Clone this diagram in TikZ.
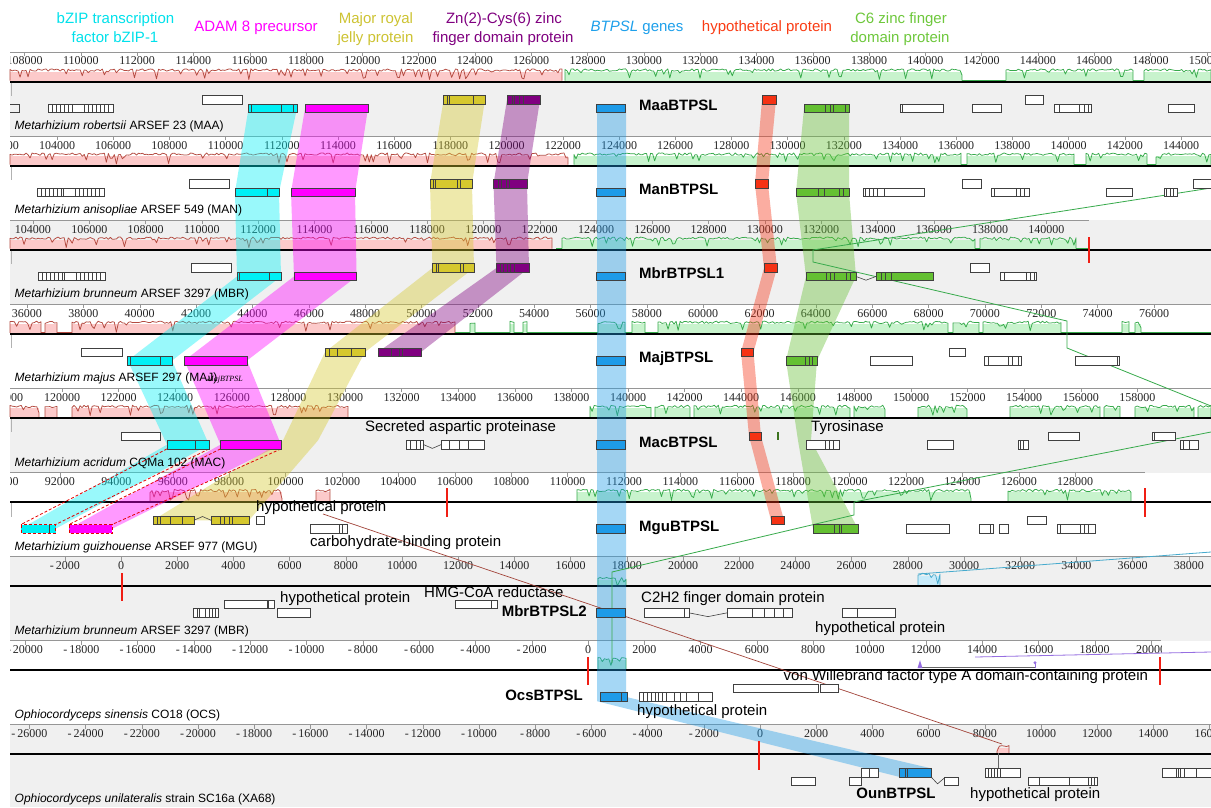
\documentclass[tikz,border=0pt]{standalone}
\usepackage{fontspec}
\setmainfont{Liberation Sans}
\newfontfamily\serifticks{Liberation Serif}
\definecolor{cyG}{RGB}{0,240,245}
\definecolor{maG}{RGB}{255,0,255}
\definecolor{yeG}{RGB}{214,200,46}
\definecolor{puG}{RGB}{128,0,128}
\definecolor{blG}{RGB}{30,155,232}
\definecolor{reG}{RGB}{245,50,20}
\definecolor{grG}{RGB}{100,192,50}
\definecolor{rline}{RGB}{180,75,65}
\definecolor{rfill}{RGB}{252,202,202}
\definecolor{gline}{RGB}{55,170,75}
\definecolor{gfill}{RGB}{200,243,205}
\definecolor{tline}{RGB}{70,170,205}
\definecolor{tfill}{RGB}{200,235,250}
\definecolor{pline}{RGB}{150,110,225}
\definecolor{panelgray}{RGB}{240,240,240}
\definecolor{rulegray}{RGB}{150,150,150}
\definecolor{markred}{RGB}{240,30,20}
\definecolor{tcy}{RGB}{0,225,235}
\definecolor{tye}{RGB}{205,195,50}
\definecolor{tbl}{RGB}{30,160,235}
\definecolor{tre}{RGB}{250,60,20}
\definecolor{tgr}{RGB}{110,200,60}
\newcommand\tickf{\serifticks\fontsize{12}{12}\selectfont}
\newcommand\legf{\fontsize{15}{15}\selectfont}
\newcommand\specf{\fontsize{12}{12}\selectfont}
\newcommand\gnamef{\fontsize{15}{15}\selectfont\bfseries}
\newcommand\flabf{\fontsize{15}{15}\selectfont}
\tikzset{
 gb/.style={draw=black!75,line width=.6pt},
 dashbox/.style={draw=red!90!black,dash pattern=on 3pt off 2pt,line width=.8pt},
 ticklab/.style={font=\tickf,text=black!85,inner sep=0pt,text height=.68em,text depth=0pt},
 legend/.style={font=\legf,inner sep=0pt,text height=.72em,text depth=0pt},
 spec/.style={font=\specf,anchor=west,inner sep=0pt,text height=.72em,text depth=0pt},
 gname/.style={font=\gnamef,inner sep=0pt,text height=.72em,text depth=0pt},
 flab/.style={font=\flabf,inner sep=0pt,text height=.72em,text depth=0pt},
 blackrule/.style={line width=2pt,black},
 contig/.style={markred,line width=1.8pt},
 lcbline/.style={line width=.8pt},
}
% gene boxes: [fill]{x1}{x2}{panel y}
\newcommand\gU[4][white]{\draw[gb,fill=#1] (#2,#4+43.5) rectangle (#3,#4+52);}
\newcommand\gL[4][white]{\draw[gb,fill=#1] (#2,#4+52) rectangle (#3,#4+60.5);}
\newcommand\dU[2]{\foreach \dx in {#2}{\draw[gb] (\dx,#1+43.5) -- (\dx,#1+52);}}
\newcommand\dL[2]{\foreach \dx in {#2}{\draw[gb] (\dx,#1+52) -- (\dx,#1+60.5);}}
\newcommand\cL[3]{\draw[gb] (#2,#1+56.25) -- ({(#2+#3)/2},#1+60) -- (#3,#1+56.25);}
\newcommand\cU[3]{\draw[gb] (#2,#1+47.75) -- ({(#2+#3)/2},#1+44) -- (#3,#1+47.75);}
% similarity plot segment: [top offset]{x1}{x2}{panel y}{colour prefix}
\newcommand\simseg[5][18]{%
 \pgfmathtruncatemacro\nSamp{max(2,(#3-#2)/2)}%
 \fill[#5fill] (#2,#4+#1+1.5) rectangle (#3,#4+29.5);%
 \draw[#5line,line width=.75pt,line join=round] (#2,#4+28.5) -- plot[domain=#2:#3,samples=\nSamp] (\x,{#4+#1+1.2*rand+9*(rnd>0.84)*rnd}) -- (#3,#4+28.5);}
\newcommand\simbase[4]{\draw[#4line,line width=.7pt] (#1,#3+28.5) -- (#2,#3+28.5);}
% ruler: {Y}{xend}{v0 (thousands)}{x0}{spacing}{nmax}{prefix}
\newcommand\ruler[7]{%
 \draw[rulegray,line width=.8pt] (10,#1) -- (#2,#1);
 \begin{scope}
 \clip (10,#1-1) rectangle (#2,#1+18);
 \foreach \n in {0,...,#6}{
  \pgfmathsetmacro\tkX{#4+\n*#5}
  \pgfmathtruncatemacro\tkV{#3+2*\n}
  \pgfmathtruncatemacro\tkA{abs(\tkV)}
  \draw[rulegray] (\tkX,#1) -- (\tkX,#1+4);
  \node[ticklab] (#7\n) at (\tkX,#1+9.5) {\ifnum\tkV<0 -\,\tkA000\else\ifnum\tkV=0 0\else\tkA000\fi\fi};
 }
 \end{scope}}
\def\pA{52}\def\pB{136.1}\def\pC{220.2}\def\pD{304.3}\def\pE{388.4}
\def\pF{472.5}\def\pG{556.6}\def\pH{640.7}\def\pI{724.8}
\begin{document}
\begin{tikzpicture}[x=1pt,y=-1pt]
\pgfmathsetseed{7}
\useasboundingbox (0,0) rectangle (1211,807);
\fill[white] (0,0) rectangle (1211,807);
% panel backgrounds
\fill[panelgray] (10,\pA+30.5) rectangle (1211,\pB);
\fill[panelgray] (10,\pC) rectangle (1211,\pD);
\fill[panelgray] (10,\pE+30.5) rectangle (1211,\pF);
\fill[panelgray] (10,\pG) rectangle (1211,\pH);
\fill[panelgray] (10,\pI) rectangle (1211,807);
% similarity plots
\simseg{10}{562}{\pA}{r}
\simbase{565}{1211}{\pA}{g}
\simseg{565}{962}{\pA}{g}\simseg{1006}{1133}{\pA}{g}\simseg{1144}{1211}{\pA}{g}
\simseg{10}{568}{\pB}{r}
\simbase{574}{1211}{\pB}{g}
\simseg{574}{961}{\pB}{g}\simseg{967}{1074}{\pB}{g}\simseg{1086}{1147}{\pB}{g}\simseg{1156}{1211}{\pB}{g}
\simseg{10}{552}{\pC}{r}
\simbase{556}{1089}{\pC}{g}
\simseg{562}{975}{\pC}{g}\simseg{980}{1076}{\pC}{g}
\simbase{10}{455}{\pD}{r}
\simseg{10}{41}{\pD}{r}\simseg{45}{57}{\pD}{r}\simseg{72}{455}{\pD}{r}
\simbase{455}{1211}{\pD}{g}
\simseg{470}{475}{\pD}{g}\simseg{510}{514}{\pD}{g}\simseg{523}{527}{\pD}{g}
\simseg{598}{625}{\pD}{g}\simseg{632}{645}{\pD}{g}\simseg{658}{948}{\pD}{g}
\simseg{953}{979}{\pD}{g}\simseg{983}{1061}{\pD}{g}\simseg{1122}{1129}{\pD}{g}\simseg{1135}{1141}{\pD}{g}
\simbase{10}{348}{\pE}{r}
\simseg{10}{39}{\pE}{r}\simseg{45}{57}{\pE}{r}\simseg{72}{348}{\pE}{r}
\simbase{585}{1211}{\pE}{g}
\simseg{590}{651}{\pE}{g}\simseg{655}{690}{\pE}{g}\simseg{694}{850}{\pE}{g}
\simseg{854}{885}{\pE}{g}\simseg{918}{967}{\pE}{g}\simseg{1010}{1100}{\pE}{g}
\simseg{1104}{1120}{\pE}{g}\simseg{1135}{1194}{\pE}{g}\simseg{1198}{1211}{\pE}{g}
\simseg{150}{282}{\pF}{r}\simseg{316}{330}{\pF}{r}
\simbase{577}{1145}{\pF}{g}
\simseg{577}{971}{\pF}{g}\simseg{1008}{1131}{\pF}{g}
\simseg[22]{598}{626}{\pG}{g}
\simseg[17.5]{918}{940}{\pG}{t}
\simseg[18]{598}{626}{\pH}{g}
\draw[black!60,line width=.7pt] (920,\pH+27) -- (1035,\pH+27);
\fill[pline] (917.5,\pH+27.5) -- (920,\pH+19.5) -- (922.5,\pH+27.5) -- cycle;
\draw[pline,line width=.8pt] (1035,\pH+27.5) -- (1035,\pH+22);
\fill[pline] (1035,\pH+22) circle (1.6);
\simseg[21.5]{997}{1009}{\pI}{r}
% rulers
\ruler{\pA}{1211}{108}{24.5}{56.3}{21}{rA}
\ruler{\pB}{1211}{102}{0.8}{56.2}{21}{rB}
\ruler{\pC}{1089}{104}{33}{56.3}{18}{rC}
\ruler{\pD}{1211}{36}{27}{56.35}{20}{rD}
\ruler{\pE}{1211}{118}{5.4}{56.6}{20}{rE}
\ruler{\pF}{1145}{90}{3.6}{56.4}{19}{rF}
\ruler{\pG}{1211}{-2}{64.8}{56.2}{20}{rG}
\ruler{\pH}{1161}{-20}{25}{56.3}{20}{rH}
\ruler{\pI}{1211}{-26}{29.4}{56.2}{21}{rI}
% black panel lines
\foreach \Y in {\pA,\pB,\pC,\pD,\pE,\pF,\pG,\pH,\pI}{
 \draw[blackrule] (10,\Y+29.5) -- (1211,\Y+29.5);}
\foreach \Y in {\pA,\pB,\pC,\pD,\pE,\pF}{
 \draw[black!30,line width=.6pt] (11,\Y+30.5) -- (11,\Y+44);}
% LCB bands
\fill[cyG,opacity=.4] (248.5,\pA+56.25) -- (235,\pB+56.25) -- (237,\pC+56.25) -- (127.7,\pD+56.25) -- (167,\pE+56.25) -- (21,\pF+56.25) -- (55.6,\pF+56.25) -- (209,\pE+56.25) -- (172,\pD+56.25) -- (281,\pC+56.25) -- (279,\pB+56.25) -- (297,\pA+56.25) -- cycle;
\fill[maG,opacity=.4] (305,\pA+56.25) -- (291,\pB+56.25) -- (294,\pC+56.25) -- (184.4,\pD+56.25) -- (220.5,\pE+56.25) -- (69,\pF+56.25) -- (112,\pF+56.25) -- (281,\pE+56.25) -- (247,\pD+56.25) -- (356.6,\pC+56.25) -- (355,\pB+56.25) -- (368,\pA+56.25) -- cycle;
\fill[yeG,opacity=.4] (443.6,\pA+47.75) -- (430,\pB+47.75) -- (432.5,\pC+47.75) -- (325,\pD+47.75) -- (283,\pE+52) -- (153,\pF+47.75) -- (249,\pF+47.75) -- (318,\pE+52) -- (365,\pD+47.75) -- (474,\pC+47.75) -- (472,\pB+47.75) -- (485,\pA+47.75) -- cycle;
\fill[puG,opacity=.4] (507,\pA+47.75) -- (493.5,\pB+47.75) -- (496.5,\pC+47.75) -- (378,\pD+47.75) -- (421,\pD+47.75) -- (529,\pC+47.75) -- (527,\pB+47.75) -- (540,\pA+47.75) -- cycle;
\fill[blG,opacity=.4] (597,\pA+56.25) -- (597,\pH+60.5) -- (899,\pI+52) -- (931,\pI+43.5) -- (626,\pH+56.25) -- (626,\pA+56.25) -- cycle;
\fill[reG,opacity=.4] (762,\pA+47.75) -- (755,\pB+47.75) -- (764,\pC+47.75) -- (741,\pD+47.75) -- (749,\pE+47.75) -- (771,\pF+47.75) -- (784,\pF+47.75) -- (761,\pE+47.75) -- (753.5,\pD+47.75) -- (777,\pC+47.75) -- (768,\pB+47.75) -- (776,\pA+47.75) -- cycle;
\fill[grG,opacity=.4] (804,\pA+56.25) -- (796,\pB+56.25) -- (806,\pC+56.25) -- (786,\pD+56.25) -- (798,\pE+52) -- (813,\pF+56.25) -- (858,\pF+56.25) -- (811,\pE+52) -- (817,\pD+56.25) -- (856,\pC+56.25) -- (849,\pB+56.25) -- (849,\pA+56.25) -- cycle;
% dashed LCB edges
\draw[dashbox] (167,\pE+60.5) -- (21,\pF+52);
\draw[dashbox] (209,\pE+60.5) -- (55.6,\pF+52);
\draw[dashbox] (220.5,\pE+60.5) -- (69,\pF+52);
\draw[dashbox] (281,\pE+60.5) -- (112,\pF+52);
% thin LCB connection lines
\draw[lcbline,gline] (1211,188) -- (813,250) -- (813,262) -- (1067,321) -- (1067,348) -- (1211,406);
\draw[lcbline,gline] (1211,432) -- (854,502) -- (854,515) -- (612,572) -- (612,663);
\draw[lcbline,tline] (918,574) -- (1211,552);
\draw[lcbline,pline] (975,657) -- (1211,652);
\draw[line width=.7pt,rline!90!black] (323,514) -- (1002,744);
\draw[black!60,line width=.7pt] (998,753) -- (998,770);
% contig boundaries
\draw[contig] (1089,237) -- (1089,263);
\draw[contig] (446.7,488) -- (446.7,517);
\draw[contig] (1145,488) -- (1145,517);
\draw[contig] (122,573) -- (122,601);
\draw[contig] (588,657) -- (588,685);
\draw[contig] (1160,657) -- (1160,685);
\draw[contig] (759,741) -- (759,770);
% ---------- genes: MAA
\draw[gb] (10,\pA+52) -- (19,\pA+52) -- (19,\pA+60.5) -- (10,\pA+60.5);
\gL{48}{113}{\pA}\dL{\pA}{52,56,60,64,68,72,84,88,92,96,100,104,108}
\gU{202.5}{242}{\pA}
\gL[cyG]{248.5}{297}{\pA}\dL{\pA}{251,281,293}
\gL[maG]{305}{368}{\pA}
\gU[yeG]{443.6}{485}{\pA}\dU{\pA}{447,449,473.5}
\gU[puG]{507}{540}{\pA}\dU{\pA}{512,514,519.6,523}
\gL[blG]{596}{625}{\pA}
\gU[reG]{762}{776}{\pA}
\gL[grG]{804}{849}{\pA}\dL{\pA}{825.7,830,833,845}
\gL{900.7}{943}{\pA}\dL{\pA}{902.5}
\gL{972}{1001}{\pA}
\gU{1025}{1043}{\pA}
\gL{1054}{1091}{\pA}\dL{\pA}{1059,1079.5,1084,1088}
\gL{1168}{1194}{\pA}
% MAN
\gL{37}{104}{\pB}\dL{\pB}{41,45,49,53,57,61,63,75,79,83,87,91,95,99}
\gU{189}{229}{\pB}
\gL[cyG]{235}{279}{\pB}\dL{\pB}{267}
\gL[maG]{291}{355}{\pB}
\gU[yeG]{430}{472}{\pB}\dU{\pB}{433,435,457,460}
\gU[puG]{493.5}{527}{\pB}\dU{\pB}{498.5,501,506,509}
\gL[blG]{596}{625}{\pB}
\gU[reG]{755}{768}{\pB}
\gL[grG]{796}{849}{\pB}\dL{\pB}{818.7,824.5,839,843}
\gL{863.6}{924}{\pB}\dL{\pB}{865.5,869,873,877,884}
\gU{962}{981.5}{\pB}
\gL{991.6}{1029.5}{\pB}\dL{\pB}{994,1016,1020,1024}
\gL{1106}{1132}{\pB}
\gL{1164}{1177}{\pB}\dL{\pB}{1166,1170,1173}
\gU{1193}{1213}{\pB}
% MBR
\gL{38}{105}{\pC}\dL{\pC}{42,46,50,54,58,62,64,76,80,84,88,92,96,100}
\gU{191}{231}{\pC}
\gL[cyG]{237}{281}{\pC}\dL{\pC}{239.6,269.6}
\gL[maG]{294}{356.6}{\pC}
\gU[yeG]{432.5}{474}{\pC}\dU{\pC}{436,438,460,463}
\gU[puG]{496.5}{529}{\pC}\dU{\pC}{500,503,507,510,514}
\gL[blG]{596}{625}{\pC}
\gU[reG]{764}{777}{\pC}
\gL[grG]{806}{856}{\pC}\dL{\pC}{826,830,834,846,850}
\cL{\pC}{856}{876}
\gL[grG]{876}{933}{\pC}\dL{\pC}{881,885,891}
\gU{970}{989}{\pC}
\gL{1000}{1036.6}{\pC}\dL{\pC}{1004,1026,1030,1034}
% MAJ
\gU{81.7}{122}{\pD}
\gL[cyG]{127.7}{172}{\pD}\dL{\pD}{130.4,160}
\gL[maG]{184.4}{247}{\pD}
\gU[yeG]{325}{365}{\pD}\dU{\pD}{329,337.4,351}
\gU[puG]{378}{421}{\pD}\dU{\pD}{391,399,402.6}
\gL[blG]{596}{625}{\pD}
\gU[reG]{741}{753.5}{\pD}
\gL[grG]{786}{817}{\pD}\dL{\pD}{805,809,812}
\gL{870}{912}{\pD}
\gU{949.5}{965}{\pD}
\gL{984.6}{1021.7}{\pD}\dL{\pD}{988.5,1008,1012,1018}
\gL{1075.6}{1119}{\pD}\dL{\pD}{1117}
% MAC
\gU{121}{160}{\pE}
\gL[cyG]{167}{209}{\pE}\dL{\pE}{195.6}
\gL[maG]{220.5}{281}{\pE}
\gL{406.5}{423.7}{\pE}\dL{\pE}{410.4,416,420}
\cL{\pE}{423.7}{441}
\gL{441}{484}{\pE}\dL{\pE}{449,459,468.6}
\gL[blG]{596}{625}{\pE}
\gU[reG]{749}{761}{\pE}
\fill[grG!60!black] (777,\pE+43.5) rectangle (779,\pE+52);
\gL{806}{839}{\pE}\dL{\pE}{825.7,829.6,833.5}
\gL{927}{953}{\pE}
\gL{1018}{1028}{\pE}\dL{\pE}{1020.6,1023.7}
\gU{1048}{1079}{\pE}
\gU{1152}{1175}{\pE}\dU{\pE}{1154.5}
\gL{1180.6}{1198.6}{\pE}\dL{\pE}{1183.7,1189.6}
% MGU
\draw[dashbox,fill=cyG] (21,\pF+52) rectangle (55.6,\pF+60.5);
\draw[gb] (49,\pF+52) -- (49,\pF+60.5);
\draw[dashbox,fill=maG] (69,\pF+52) rectangle (112,\pF+60.5);
\gU[yeG]{153}{182}{\pF}\dU{\pF}{157,160,170}
\gU[yeG]{182}{194}{\pF}
\cU{\pF}{194}{211}
\gU[yeG]{211}{249}{\pF}\dU{\pF}{220.5,224,229,232}
\gU{256}{264}{\pF}
\gL{310.6}{347}{\pF}\dL{\pF}{339,342}
\gL[blG]{596}{625}{\pF}
\gU[reG]{771}{784}{\pF}
\gL[grG]{813}{858}{\pF}\dL{\pF}{834,839,841}
\gL{906.5}{949.5}{\pF}
\gL{979}{993}{\pF}\dL{\pF}{990}
\gL{999}{1008}{\pF}
\gU{1027.6}{1046}{\pF}
\gL{1057}{1095}{\pF}\dL{\pF}{1060,1080.6,1084.6,1088.5}
% MBR (2)
\gL{193.6}{218.6}{\pG}\dL{\pG}{197,199,205,209,212,215}
\gU{224}{274}{\pG}\fill[black!75] (266.8,\pG+43.5) rectangle (269,\pG+52);
\gL{277}{310}{\pG}
\gU{455.5}{497.7}{\pG}\dU{\pG}{491}
\gL[blG]{596}{625}{\pG}
\gL{644}{684}{\pG}\gL{684}{689}{\pG}
\cL{\pG}{689}{727}
\gL{727}{792.5}{\pG}\dL{\pG}{752,764,774.5,783.5}
\gL{842}{895}{\pG}\dL{\pG}{857}
% OCS
\gL[blG]{600}{627}{\pH}\dL{\pH}{621.5}
\gL{639}{712}{\pH}\dL{\pH}{643,647,651,655,658.6,662,666,674,680,686,698}
\gU{733.5}{818}{\pH}
\gU{820}{838}{\pH}
% XA68
\gL{791}{815}{\pI}
\gL{849}{861}{\pI}
\gU{861}{878}{\pI}\dU{\pI}{869}
\gU[blG]{899}{931}{\pI}\dU{\pI}{905,907}
\draw[gb] (931,\pI+52) -- (937.5,\pI+59) -- (944,\pI+53.5);
\gL{944}{958}{\pI}
\gU{985}{1020}{\pI}\dU{\pI}{988,991,994,997,1000}
\gL{1028}{1097}{\pI}\dL{\pI}{1039,1069,1088,1091,1094}
\gU{1162}{1213}{\pI}\dU{\pI}{1176,1178,1180,1184,1196}
% ---------- legend
\node[legend,text=tcy] (lg1a) at (115.5,20) {bZIP transcription};
\node[legend,text=tcy] (lg1b) at (115,39) {factor bZIP-1};
\node[legend,text=maG] (lg2) at (256,28) {ADAM 8 precursor};
\node[legend,text=tye] (lg3a) at (376,20) {Major royal};
\node[legend,text=tye] (lg3b) at (375.5,39) {jelly protein};
\node[legend,text=puG] (lg4a) at (504,20) {Zn(2)-Cys(6) zinc};
\node[legend,text=puG] (lg4b) at (503,39) {finger domain protein};
\node[legend,text=tbl] (lg5) at (637,28) {\textit{BTPSL} genes};
\node[legend,text=tre] (lg6) at (767,28) {hypothetical protein};
\node[legend,text=tgr] (lg7a) at (901,20) {C6 zinc finger};
\node[legend,text=tgr] (lg7b) at (900,39) {domain protein};
% species labels
\node[spec] (spA) at (14.5,\pA+74) {\textit{Metarhizium robertsii} ARSEF 23 (MAA)};
\node[spec] (spB) at (14.5,\pB+74) {\textit{Metarhizium anisopliae} ARSEF 549 (MAN)};
\node[spec] (spC) at (14.5,\pC+74) {\textit{Metarhizium brunneum} ARSEF 3297 (MBR)};
\node[spec] (spD) at (14.5,\pD+74) {\textit{Metarhizium majus} ARSEF 297 (MAJ)};
\node[font=\serifticks\itshape\fontsize{8}{8}\selectfont,anchor=west,inner sep=0pt] (spDx) at (207,\pD+75) {MajBTPSL};
\node[spec] (spE) at (14.5,\pE+74) {\textit{Metarhizium acridum} CQMa 102 (MAC)};
\node[spec] (spF) at (14.5,\pF+74) {\textit{Metarhizium guizhouense} ARSEF 977 (MGU)};
\node[spec] (spG) at (14.5,\pG+74) {\textit{Metarhizium brunneum} ARSEF 3297 (MBR)};
\node[spec] (spH) at (14.5,\pH+74) {\textit{Ophiocordyceps sinensis} CO18 (OCS)};
\node[spec] (spI) at (14.5,\pI+74) {\textit{Ophiocordyceps unilateralis} strain SC16a (XA68)};
% gene names
\node[gname,anchor=west] (gnA) at (639,\pA+55) {MaaBTPSL};
\node[gname,anchor=west] (gnB) at (639,\pB+55) {ManBTPSL};
\node[gname,anchor=west] (gnC) at (639,\pC+55) {MbrBTPSL1};
\node[gname,anchor=west] (gnD) at (639,\pD+55) {MajBTPSL};
\node[gname,anchor=west] (gnE) at (639,\pE+55) {MacBTPSL};
\node[gname,anchor=west] (gnF) at (639,\pF+55) {MguBTPSL};
\node[gname,anchor=east] (gnG) at (587,\pG+56.5) {MbrBTPSL2};
\node[gname,anchor=east] (gnH) at (583,\pH+56.3) {OcsBTPSL};
\node[gname] (gnI) at (896,795) {OunBTPSL};
% feature labels
\node[flab] (fl1) at (460.5,428) {Secreted aspartic proteinase};
\node[flab,anchor=west] (fl2) at (811,428) {Tyrosinase};
\node[flab,anchor=west] (fl3) at (256,508) {hypothetical protein};
\node[flab,anchor=west] (fl4) at (310,543) {carbohydrate-binding protein};
\node[flab,anchor=west] (fl5) at (280,599) {hypothetical protein};
\node[flab,anchor=west] (fl6) at (424,594) {HMG-CoA reductase};
\node[flab,anchor=west] (fl7) at (641,599) {C2H2 finger domain protein};
\node[flab,anchor=west] (fl8) at (815,629) {hypothetical protein};
\node[flab,anchor=west] (fl9) at (783.5,677) {von Willebrand factor type A domain-containing protein};
\node[flab,anchor=west] (fl10) at (637,712) {hypothetical protein};
\node[flab,anchor=west] (fl11) at (970,795) {hypothetical protein};
\end{tikzpicture}
\end{document}
